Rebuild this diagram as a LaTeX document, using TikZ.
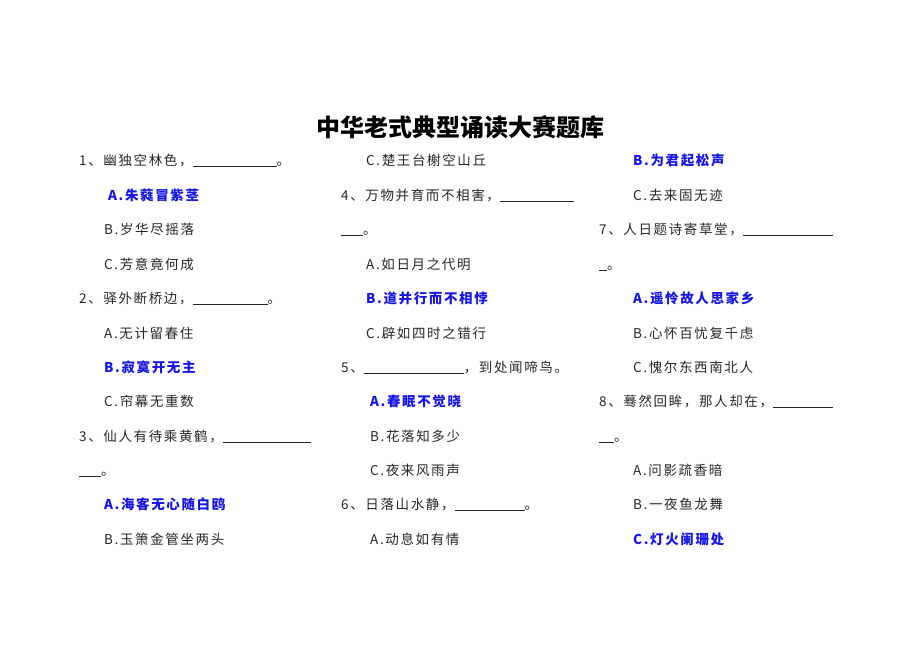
\documentclass[tikz,border=0pt]{standalone}
\usepackage{fontspec}
\newfontfamily\cjk[LetterSpace=12]{Noto Sans CJK SC}
\newfontfamily\cjkt{Noto Sans CJK SC}
\definecolor{ans}{RGB}{20,20,235}
\newcommand{\ul}[1]{\underline{\hspace{#1pt}}}
\begin{document}
\begin{tikzpicture}[x=1pt,y=-1pt,
  t/.style={anchor=base west,inner sep=0pt,font=\cjk\fontsize{13.5}{14}\selectfont,text=black!85},
  a/.style={t,text=ans,font=\cjk\bfseries\fontsize{13.5}{14}\selectfont}]
\useasboundingbox (0,0) rectangle (920,651);
\node[anchor=base,inner sep=0pt,font=\cjkt\bfseries\fontsize{24}{26}\selectfont] (title) at (460,136) {中华老式典型诵读大赛题库};
% left column
\node[t] (l1) at (79,165) {1、幽独空林色，\ul{84}。};
\node[a] (l2) at (108,200) {A.朱蕤冒紫茎};
\node[t] (l3) at (104,234) {B.岁华尽摇落};
\node[t] (l4) at (104,269) {C.芳意竟何成};
\node[t] (l5) at (79,303) {2、驿外断桥边，\ul{75}。};
\node[t] (l6) at (104,338) {A.无计留春住};
\node[a] (l7) at (104,372) {B.寂寞开无主};
\node[t] (l8) at (104,406) {C.帘幕无重数};
\node[t] (l9) at (79,441) {3、仙人有待乘黄鹤，\ul{88}};
\node[t] (l10) at (79,475) {\ul{22}。};
\node[a] (l11) at (104,509) {A.海客无心随白鸥};
\node[t] (l12) at (104,544) {B.玉箫金管坐两头};
% middle column
\node[t] (m1) at (366,165) {C.楚王台榭空山丘};
\node[t] (m2) at (341,200) {4、万物并育而不相害，\ul{74}};
\node[t] (m3) at (341,234) {\ul{22}。};
\node[t] (m4) at (366,269) {A.如日月之代明};
\node[a] (m5) at (366,303) {B.道并行而不相悖};
\node[t] (m6) at (366,338) {C.辟如四时之错行};
\node[t] (m7) at (341,372) {5、\ul{100}，到处闻啼鸟。};
\node[a] (m8) at (370,406) {A.春眠不觉晓};
\node[t] (m9) at (370,441) {B.花落知多少};
\node[t] (m10) at (370,475) {C.夜来风雨声};
\node[t] (m11) at (341,509) {6、日落山水静，\ul{70}。};
\node[t] (m12) at (370,544) {A.动息如有情};
% right column
\node[a] (r1) at (633,165) {B.为君起松声};
\node[t] (r2) at (633,200) {C.去来固无迹};
\node[t] (r3) at (599,234) {7、人日题诗寄草堂，\ul{90}};
\node[t] (r4) at (599,269) {\ul{8}。};
\node[a] (r5) at (633,303) {A.遥怜故人思家乡};
\node[t] (r6) at (633,338) {B.心怀百忧复千虑};
\node[t] (r7) at (633,372) {C.愧尔东西南北人};
\node[t] (r8) at (599,406) {8、蓦然回眸，那人却在，\ul{60}};
\node[t] (r9) at (599,441) {\ul{15}。};
\node[t] (r10) at (633,475) {A.问影疏香暗};
\node[t] (r11) at (633,509) {B.一夜鱼龙舞};
\node[a] (r12) at (633,544) {C.灯火阑珊处};
\end{tikzpicture}
\end{document}
